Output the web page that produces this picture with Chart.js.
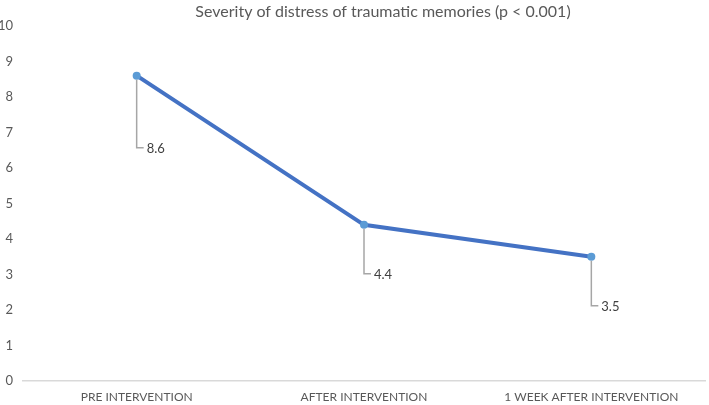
<!DOCTYPE html>
<html>
<head>
<meta charset="utf-8">
<script src="https://cdn.jsdelivr.net/npm/chart.js@4/dist/chart.umd.min.js"></script>
<style>
  html, body { margin: 0; padding: 0; background: #fff; }
  #wrap { width: 709px; height: 405px; position: relative; }
</style>
</head>
<body>
<div id="wrap"><canvas id="chart"></canvas></div>
<script>
const chartTitle = "Severity of distress of traumatic memories (p < 0.001)";
const categories = ["PRE INTERVENTION", "AFTER INTERVENTION", "1 WEEK AFTER INTERVENTION"];
const severity = [8.6, 4.4, 3.5];
const yTicks = [0, 1, 2, 3, 4, 5, 6, 7, 8, 9, 10];

const FONT = "Lato, 'Open Sans', sans-serif";
const TEXT = "#595959";

// leader lines + value labels, like the Excel callouts
const calloutDrop = [72, 49, 49];
const calloutPlugin = {
  id: "callouts",
  afterDatasetsDraw(chart) {
    const ctx = chart.ctx;
    const meta = chart.getDatasetMeta(0);
    ctx.save();
    meta.data.forEach((pt, i) => {
      const hookY = pt.y + calloutDrop[i];
      ctx.strokeStyle = "#a6a6a6";
      ctx.lineWidth = 1.5;
      ctx.beginPath();
      ctx.moveTo(pt.x, pt.y + 4);
      ctx.lineTo(pt.x, hookY);
      ctx.lineTo(pt.x + 7, hookY);
      ctx.stroke();
      ctx.fillStyle = "#404040";
      ctx.font = "13px " + FONT;
      ctx.textAlign = "left";
      ctx.textBaseline = "middle";
      ctx.fillText(severity[i].toFixed(1), pt.x + 10, hookY + 1);
    });
    ctx.restore();
  },
  afterDraw(chart) {
    const ctx = chart.ctx;
    ctx.save();
    ctx.fillStyle = TEXT;
    ctx.font = "16px " + FONT;
    ctx.textAlign = "center";
    ctx.textBaseline = "middle";
    ctx.fillText(chartTitle, 383, 12);
    ctx.restore();
  }
};

new Chart(document.getElementById("chart"), {
  type: "line",
  data: {
    labels: categories,
    datasets: [{
      data: severity,
      borderColor: "#4472c4",
      borderWidth: 4,
      pointRadius: 4,
      pointBackgroundColor: "#5b9bd5",
      pointBorderColor: "#5b9bd5",
      pointBorderWidth: 0,
      tension: 0
    }]
  },
  options: {
    responsive: true,
    maintainAspectRatio: false,
    animation: false,
    layout: { padding: { top: 26, left: 0, right: 2, bottom: 0 } },
    plugins: {
      legend: { display: false },
      title: { display: false },
      tooltip: { enabled: false }
    },
    scales: {
      x: {
        offset: true,
        grid: { display: false, drawTicks: false },
        border: { display: true, color: "#d9d9d9", width: 1.5 },
        ticks: { color: TEXT, font: { family: FONT, size: 12 }, padding: 9, maxRotation: 0 },
        afterFit(scale) { scale.height = 24; }
      },
      y: {
        min: 0,
        max: 10,
        afterBuildTicks(scale) { scale.ticks = yTicks.map(v => ({ value: v })); },
        grid: { display: false, drawTicks: false },
        border: { display: false },
        ticks: { color: TEXT, font: { family: FONT, size: 13 }, padding: 10 },
        afterFit(scale) { scale.width = 23; }
      }
    }
  },
  plugins: [calloutPlugin]
});
</script>
</body>
</html>
